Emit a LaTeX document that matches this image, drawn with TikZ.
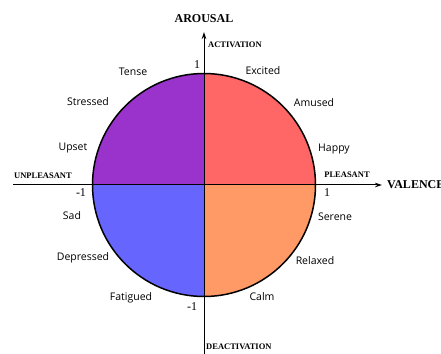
\documentclass[tikz,border=0pt]{standalone}
\usepackage{fontspec}
\setmainfont{Liberation Serif}
\newfontfamily\moodfont{Open Sans}
\usetikzlibrary{arrows.meta}

\definecolor{quadred}{RGB}{255,102,102}
\definecolor{quadpurple}{RGB}{153,51,204}
\definecolor{quadblue}{RGB}{102,102,255}
\definecolor{quadorange}{RGB}{255,153,102}

\begin{document}
\begin{tikzpicture}[x=1pt,y=1pt,
  mood/.style={font=\moodfont\fontsize{10.5}{12}\selectfont, inner sep=0pt},
  axisname/.style={font=\bfseries\fontsize{12}{14}\selectfont, inner sep=0pt},
  pole/.style={font=\bfseries\fontsize{8.5}{10}\selectfont, inner sep=0pt},
  tick/.style={font=\fontsize{12}{14}\selectfont, inner sep=0pt},
  axis/.style={line width=1pt, -{Stealth[length=7pt,width=4.5pt]}}]
\useasboundingbox (0,0) rectangle (441,353);
\coordinate (o) at (204,168);

% quadrants
\fill[quadred] (o) -- ++(0:111.5) arc[start angle=0, end angle=90, radius=111.5] -- cycle;
\fill[quadpurple] (o) -- ++(90:111.5) arc[start angle=90, end angle=180, radius=111.5] -- cycle;
\fill[quadblue] (o) -- ++(180:111.5) arc[start angle=180, end angle=270, radius=111.5] -- cycle;
\fill[quadorange] (o) -- ++(270:111.5) arc[start angle=270, end angle=360, radius=111.5] -- cycle;
\node[circle, draw, line width=1.5pt, minimum size=223pt, inner sep=0pt] (wheel) at (o) {};

% axes
\coordinate (west) at (13,168);
\coordinate (east) at (382,168);
\coordinate (south) at (204,-2);
\coordinate (north) at (204,321);
\draw[axis] (west) -- (east);
\draw[axis] (south) -- (north);

\node[axisname] (arousal) at (204,334) {AROUSAL};
\node[axisname, anchor=west] (valence) at (387,168) {VALENCE};
\node[pole, anchor=west] (act) at (208,308) {ACTIVATION};
\node[pole, anchor=west] (deact) at (206,6) {DEACTIVATION};
\node[pole] (unpl) at (43,177) {UNPLEASANT};
\node[pole] (pl) at (347,178) {PLEASANT};

\node[tick] (ytop) at (197,288) {1};
\node[tick] (ybot) at (192,46) {-1};
\node[tick] (xleft) at (81,160) {-1};
\node[tick] (xright) at (327,160) {1};

% moods
\node[mood] (tense) at (133,281) {Tense};
\node[mood] (excited) at (263,282) {Excited};
\node[mood] (stressed) at (88,251) {Stressed};
\node[mood] (amused) at (314,250) {Amused};
\node[mood] (upset) at (73,205) {Upset};
\node[mood] (happy) at (334,204) {Happy};
\node[mood] (sad) at (72,137) {Sad};
\node[mood] (serene) at (335,136) {Serene};
\node[mood] (depressed) at (83,95) {Depressed};
\node[mood] (relaxed) at (315,92) {Relaxed};
\node[mood] (fatigued) at (131,55) {Fatigued};
\node[mood] (calm) at (262,56) {Calm};
\end{tikzpicture}
\end{document}
